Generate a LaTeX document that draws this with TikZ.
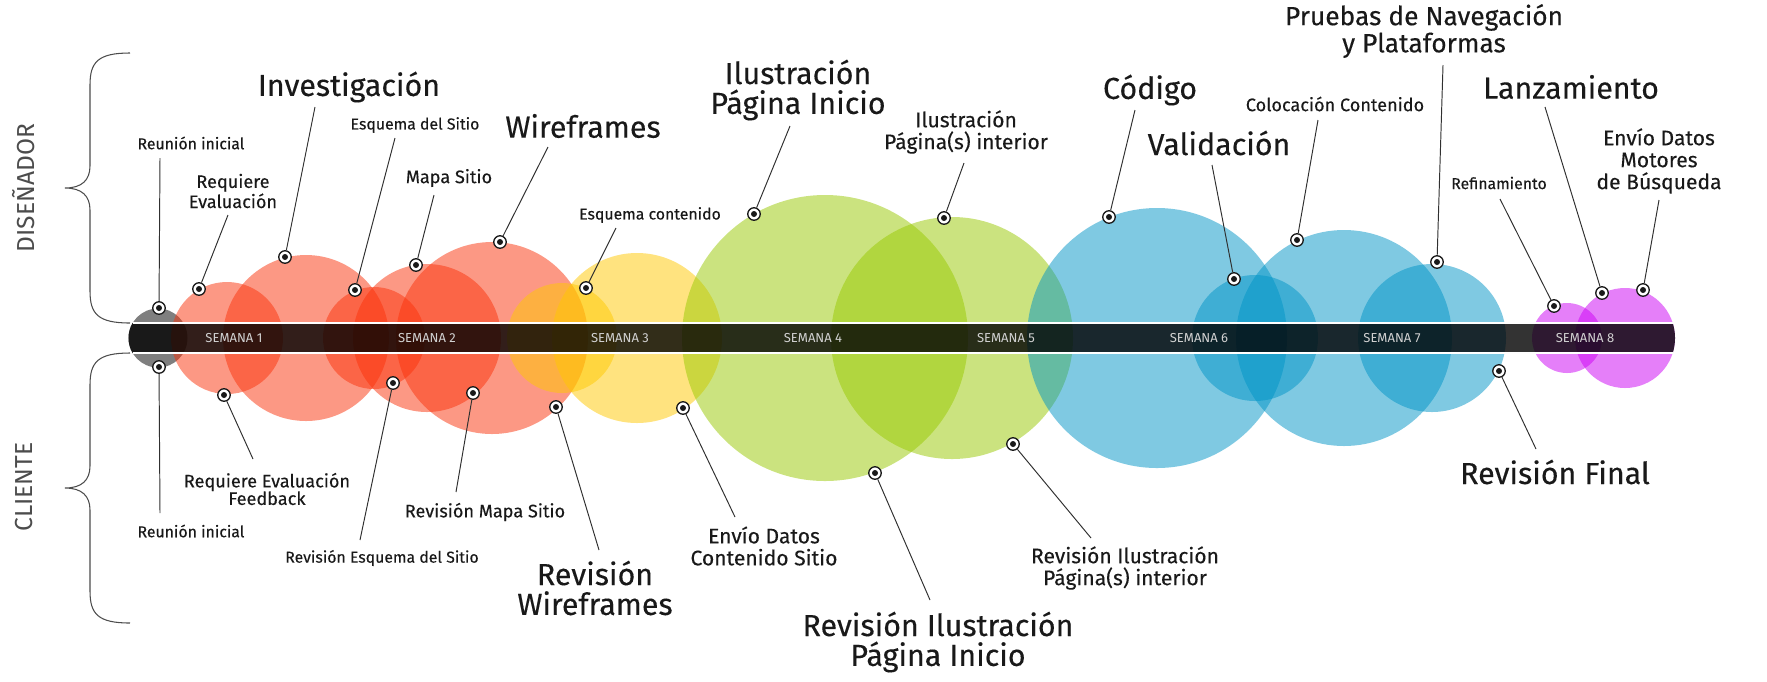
\documentclass[tikz,border=0pt]{standalone}
\usepackage{fontspec}
\setmainfont{Fira Sans}
\newfontfamily\gruesa{Fira Sans}[FakeBold=0.25]

\definecolor{rojo}{RGB}{250,50,10}
\definecolor{amarillo}{RGB}{255,200,0}
\definecolor{verde}{RGB}{152,200,0}
\definecolor{azul}{RGB}{0,148,198}
\definecolor{morado}{RGB}{204,0,244}
\definecolor{tinta}{RGB}{25,25,25}

\tikzset{
  hito/.style={circle, draw=tinta, fill=white, line width=0.75pt,
    minimum size=0.25cm, inner sep=0pt,
    path picture={\fill[tinta] (path picture bounding box.center) circle (0.06cm);}},
  guia/.style={draw=tinta!90, line width=0.55pt},
  burbuja/.style={opacity=0.5},
  grande/.style={font=\gruesa\fontsize{17.3}{17}\selectfont, align=center, text=tinta},
  mediana/.style={font=\gruesa\fontsize{12}{12.5}\selectfont, align=center, text=tinta},
  chica/.style={font=\gruesa\fontsize{10.3}{10}\selectfont, align=center, text=tinta},
  mini/.style={font=\gruesa\fontsize{9}{9}\selectfont, align=center, text=tinta},
  semana/.style={font=\fontsize{7.4}{8}\selectfont, text=black!18},
  rol/.style={font=\fontsize{14}{14}\selectfont, text=black!70, rotate=90},
  llave/.style={draw=black!70, line width=0.6pt}
}

\begin{document}
\begin{tikzpicture}[x=0.02cm, y=-0.02cm]
\useasboundingbox (0,0) rectangle (1767,681);

% burbujas de cada semana
\foreach \cx/\r/\col in {158/29.5/black, 227/56/rojo, 306/83/rojo, 374/51/rojo,
    427/74/rojo, 492/96/rojo, 562/55/amarillo, 637/85/amarillo, 825/143/verde,
    952/121/verde, 1157/130/azul, 1255/63/azul, 1344/108/azul, 1432/74/azul,
    1567/35/morado, 1625/50/morado}
  \fill[fill=\col, burbuja] (\cx,338) circle (\r);

% barra de semanas
\fill[black, opacity=0.8] (132.6,323) -- (1672.7,323)
  arc[start angle=-17.5, end angle=17.5, radius=50] -- (132.6,353)
  arc[start angle=149.4, end angle=210.6, radius=29.5] -- cycle;
\draw[white, line width=0.7pt] (132.6,323) -- (1672.7,323) (132.6,353) -- (1672.7,353);
\foreach \n in {1,...,8}
  \node[semana] (s\n) at ({234+193*(\n-1)},338) {SEMANA \n};

% llaves y roles
\foreach \o in {0,300}
  \draw[llave] (130,{53+\o}) .. controls (98,{53+\o}) and (90,{62+\o}) .. (90,{85+\o})
    -- (90,{166+\o}) .. controls (90,{180+\o}) and (82,{188+\o}) .. (65,{188+\o})
    .. controls (82,{188+\o}) and (90,{196+\o}) .. (90,{210+\o})
    -- (90,{291+\o}) .. controls (90,{314+\o}) and (98,{323+\o}) .. (130,{323+\o});
\node[rol] (disenador) at (24,188) {DISEÑADOR};
\node[rol] (cliente) at (24,487) {CLIENTE};

% etiquetas grandes
\foreach \px/\py/\ex/\ey/\lx/\ly/\txt [count=\i] in {
    285/257/315/107/349/87/Investigación,
    500/242/548/147/583/126/Wireframes,
    754/214/790/126/798/90/{Ilustración\\Página Inicio},
    1109/217/1135/110/1150/90/Código,
    1234/279/1212/165/1219/143/Validación,
    1602/293/1545/107/1571/87/Lanzamiento,
    556/407/599/550/595/588/{Revisión\\Wireframes},
    875/473/930/600/938/642/{Revisión Ilustración\\Página Inicio},
    1499/371/1536/449/1555/472/Revisión Final}
{
  \node[hito] (pg\i) at (\px,\py) {};
  \node[grande] (g\i) at (\lx,\ly) {\txt};
  \coordinate (eg\i) at (\ex,\ey);
  \draw[guia] (pg\i) -- (eg\i);
}
\node[hito] (pp) at (1437,262) {};
\node[grande, font=\gruesa\fontsize{15}{14.2}\selectfont] (pruebas) at (1424,31)
  {Pruebas de Navegación\\y Plataformas};
\coordinate (ep) at (1443,65);
\draw[guia] (pp) -- (ep);

% etiquetas medianas
\foreach \px/\py/\ex/\ey/\lx/\ly/\txt [count=\i] in {
    944/218/964/163/966/132/{Ilustración\\Página(s) interior},
    1643/290/1659/200/1659/161/{Envío Datos\\Motores\\de Búsqueda},
    683/408/735/517/764/546/{Envío Datos\\Contenido Sitio},
    1013/444/1091/538/1125/568/{Revisión Ilustración\\Página(s) interior}}
{
  \node[hito] (pm\i) at (\px,\py) {};
  \node[mediana] (m\i) at (\lx,\ly) {\txt};
  \coordinate (em\i) at (\ex,\ey);
  \draw[guia] (pm\i) -- (em\i);
}

% etiquetas chicas
\foreach \px/\py/\ex/\ey/\lx/\ly/\txt [count=\i] in {
    199/289/228/215/233/191/{Requiere\\Evaluación},
    416/265/434/195/449/178/Mapa Sitio,
    1297/240/1318/120/1335/104/Colocación Contenido,
    224/395/253/459/267/489/{Requiere Evaluación\\Feedback},
    473/393/456/492/485/512/Revisión Mapa Sitio}
{
  \node[hito] (pc\i) at (\px,\py) {};
  \node[chica] (c\i) at (\lx,\ly) {\txt};
  \coordinate (ec\i) at (\ex,\ey);
  \draw[guia] (pc\i) -- (ec\i);
}

% etiquetas mini
\foreach \px/\py/\ex/\ey/\lx/\ly/\txt [count=\i] in {
    159/308/160/158/191/143/Reunión inicial,
    355/290/395/138/415/125/Esquema del Sitio,
    586/288/616/228/650/215/Esquema contenido,
    1554/306/1500/199/1499/183/Refinamiento,
    159/367/160/513/191/531/Reunión inicial,
    393/383/360/540/382/558/Revisión Esquema del Sitio}
{
  \node[hito] (pn\i) at (\px,\py) {};
  \node[mini] (n\i) at (\lx,\ly) {\txt};
  \coordinate (en\i) at (\ex,\ey);
  \draw[guia] (pn\i) -- (en\i);
}
\end{tikzpicture}
\end{document}
